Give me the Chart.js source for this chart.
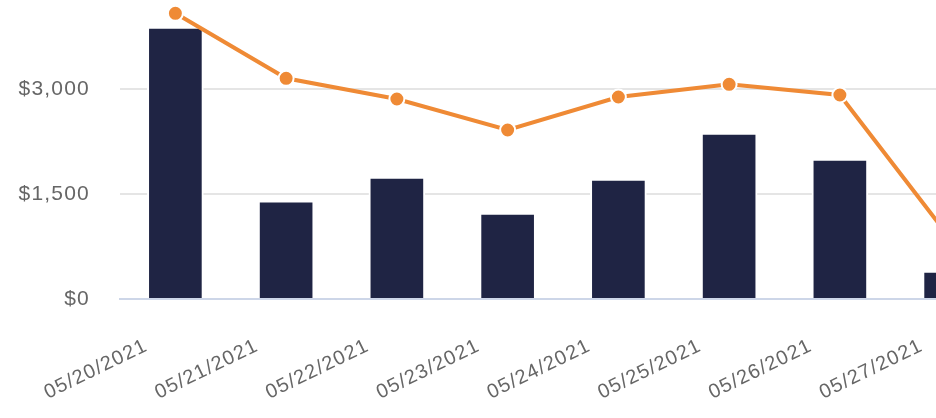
<!DOCTYPE html>
<html>
<head>
<meta charset="utf-8">
<script src="https://cdn.jsdelivr.net/npm/chart.js@4.4.1/dist/chart.umd.min.js"></script>
<style>
    html, body { margin: 0; padding: 0; background: #fff; overflow: hidden; }
    #wrap { width: 1006px; height: 418px; }
</style>
</head>
<body>
<div id="wrap"><canvas id="cchart" width="1006" height="418"></canvas></div>
<script>
// Category labels (one per day)
let days = ["05/20/2021", "05/21/2021", "05/22/2021", "05/23/2021", "05/24/2021", "05/25/2021", "05/26/2021", "05/27/2021"];

// Bar series, dollars per day
let barValues = [3886, 1404, 1743, 1229, 1714, 2371, 2000, 400];

// Line series, dollars per day
let lineValues = [4081, 3153, 2857, 2414, 2886, 3067, 2914, 857];

// Y axis ticks that get a label
let yTicks = [0, 1500, 3000];

// Colors
let navy = "#1f2444";
let orange = "#ef8a35";
let gridGray = "#e5e5e5";
let axisBlue = "#cdd6e8";
let textGray = "#666666";

let fontFamily = "'Liberation Sans', Arial, sans-serif";

/*
    The tick text in the picture is spaced out a little; Chart.js has no option
    for that, so set it on the context before layout and draw.
*/
let letterSpacingPlugin = {
    id: "letterSpacing",
    beforeLayout: function (chart) { chart.ctx.letterSpacing = "1.2px"; },
    beforeDraw: function (chart) { chart.ctx.letterSpacing = "1.2px"; }
};

/*
    Dollar formatting for the y axis
*/
function formatDollars(value) {
    return "$" + Number(value).toLocaleString("en-US");
}

/*
    Build the chart
*/
function initChart() {
    let ctx = document.getElementById("cchart").getContext("2d");

    let datasets = [
        {
            type: "line",
            label: "Line",
            data: lineValues,
            order: 0,
            clip: false,
            borderColor: orange,
            borderWidth: 4,
            backgroundColor: orange,
            pointBackgroundColor: orange,
            pointBorderColor: "#ffffff",
            pointBorderWidth: 2,
            pointRadius: 7.5,
            fill: false,
            tension: 0
        },
        {
            type: "bar",
            label: "Bars",
            data: barValues,
            order: 1,
            backgroundColor: navy,
            borderColor: "#ffffff",
            borderWidth: 2,
            barThickness: 56
        }
    ];

    new Chart(ctx, {
        data: { labels: days, datasets: datasets },
        plugins: [letterSpacingPlugin],
        options: {
            responsive: false,
            animation: false,
            layout: { autoPadding: false, padding: { top: 5, left: 0, right: 0, bottom: 0 } },
            plugins: {
                legend: { display: false },
                tooltip: { enabled: false }
            },
            scales: {
                x: {
                    z: 1,
                    grid: { display: false, drawTicks: false },
                    border: { display: true, color: axisBlue, width: 2 },
                    ticks: {
                        autoSkip: false,
                        minRotation: 26,
                        maxRotation: 26,
                        labelOffset: -29,
                        padding: 35,
                        color: textGray,
                        font: { family: fontFamily, size: 20 }
                    },
                    afterFit: function (scale) {
                        scale.height = 119;
                        scale.paddingLeft = 0;
                        scale.paddingRight = 0;
                    }
                },
                y: {
                    min: 0,
                    max: 4200,
                    grid: {
                        drawTicks: false,
                        lineWidth: 2,
                        color: function (c) {
                            return c.tick && c.tick.value === 0 ? "rgba(0,0,0,0)" : gridGray;
                        }
                    },
                    border: { display: false },
                    afterBuildTicks: function (scale) {
                        scale.ticks = yTicks.map(v => ({ value: v }));
                    },
                    ticks: {
                        padding: 30,
                        color: textGray,
                        font: { family: fontFamily, size: 21 },
                        callback: formatDollars
                    },
                    afterFit: function (scale) {
                        scale.width = 120;
                        scale.paddingTop = 0;
                        scale.paddingBottom = 0;
                    }
                }
            }
        }
    });
}

initChart();
</script>
</body>
</html>
